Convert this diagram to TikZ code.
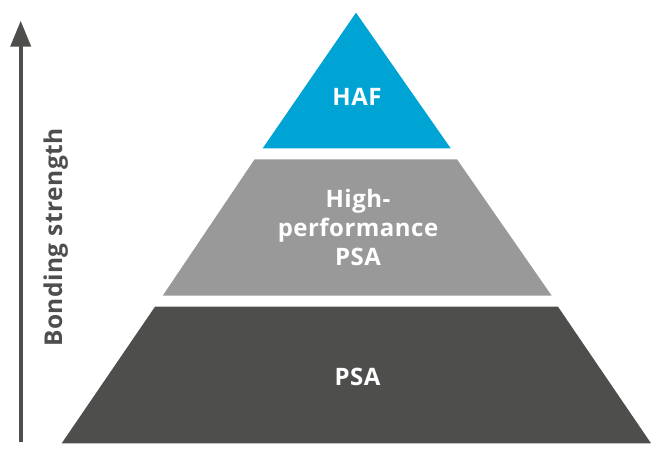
\documentclass[tikz,border=0pt]{standalone}
\usepackage{fontspec}
\setmainfont{Open Sans}[LetterSpace=2]
\usetikzlibrary{arrows.meta}

\definecolor{hafblue}{HTML}{00A4D4}
\definecolor{hpgrey}{HTML}{999999}
\definecolor{psadark}{HTML}{4E4E4D}

\begin{document}
\begin{tikzpicture}[x=1pt,y=-1pt,
    label/.style={text=white,font=\bfseries\fontsize{24}{29}\selectfont,align=center,anchor=base,inner sep=0pt}]
        \useasboundingbox (0,0) rectangle (651,450);

        % Pyramid levels
        \fill[hafblue] (356,12.7) -- (450.7,148.3) -- (262.7,148.3) -- cycle;
        \fill[hpgrey] (254.6,159.3) -- (457,159.3) -- (551.7,295.7) -- (162.7,295.7) -- cycle;
        \fill[psadark] (155,306.7) -- (558,306.7) -- (651,443.3) -- (61.7,443.3) -- cycle;

        \node[label] (haf) at (357,105) {HAF};
        \node[label] (hpsa) at (358,265) {High-\\performance\\PSA};
        \node[label] (psa) at (357.5,385) {PSA};

        % Bonding strength axis
        \coordinate (axis bottom) at (20.7,442);
        \coordinate (axis top) at (20.7,20.7);
        \draw[psadark,line width=4pt,-{Triangle[length=26pt,width=20pt]}] (axis bottom) -- (axis top);
        \node[text=psadark,font=\bfseries\fontsize{24.5}{29}\selectfont,rotate=90,anchor=base,inner sep=0pt] (strength) at (62,237.5) {Bonding strength};
    \end{tikzpicture}
\end{document}
